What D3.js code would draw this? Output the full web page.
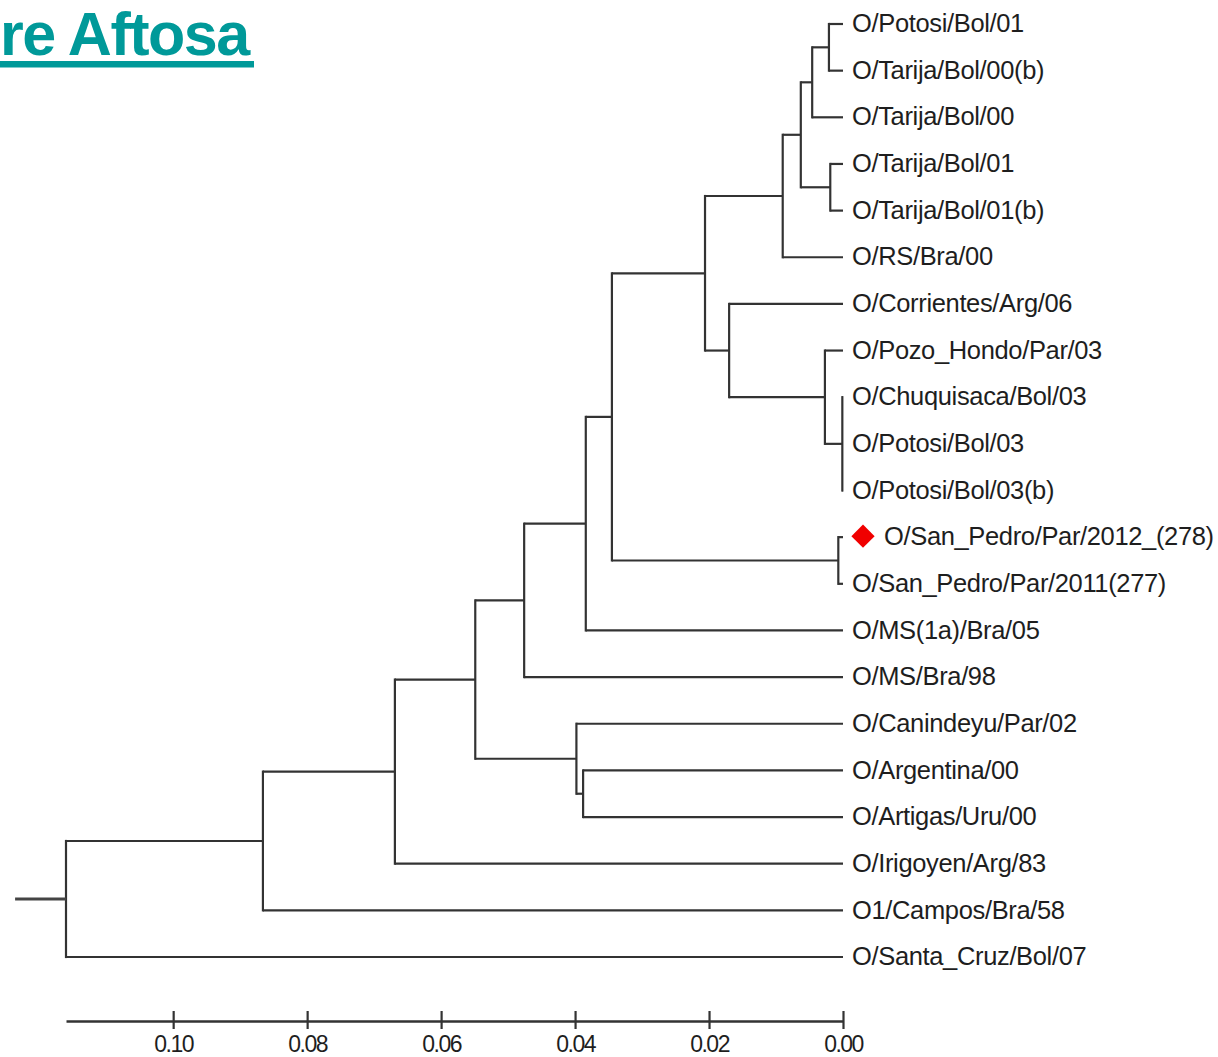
<!DOCTYPE html>
<html>
<head>
<meta charset="utf-8">
<script src="https://cdn.jsdelivr.net/npm/d3@7"></script>
<style>
  html, body { margin: 0; padding: 0; background: #fff; overflow: hidden; }
  svg { display: block; }
</style>
</head>
<body>
<svg id="chart" width="1218" height="1057"></svg>
<script>
// ---- Data ----
const titleText = "re Aftosa";

const leafNames = [
  "O/Potosi/Bol/01",
  "O/Tarija/Bol/00(b)",
  "O/Tarija/Bol/00",
  "O/Tarija/Bol/01",
  "O/Tarija/Bol/01(b)",
  "O/RS/Bra/00",
  "O/Corrientes/Arg/06",
  "O/Pozo_Hondo/Par/03",
  "O/Chuquisaca/Bol/03",
  "O/Potosi/Bol/03",
  "O/Potosi/Bol/03(b)",
  "O/San_Pedro/Par/2012_(278)",
  "O/San_Pedro/Par/2011(277)",
  "O/MS(1a)/Bra/05",
  "O/MS/Bra/98",
  "O/Canindeyu/Par/02",
  "O/Argentina/00",
  "O/Artigas/Uru/00",
  "O/Irigoyen/Arg/83",
  "O1/Campos/Bra/58",
  "O/Santa_Cruz/Bol/07"
];

// internal clusters (UPGMA), their members and node heights (distance)
const clusterIds = ["A","B","C","D","E","I","H","G","F","J","Q","M","K","P","O","L","N","R","S"];
const clusterMembers = [
  ["O/Potosi/Bol/01", "O/Tarija/Bol/00(b)"],
  ["A", "O/Tarija/Bol/00"],
  ["O/Tarija/Bol/01", "O/Tarija/Bol/01(b)"],
  ["B", "C"],
  ["D", "O/RS/Bra/00"],
  ["O/Chuquisaca/Bol/03", "O/Potosi/Bol/03", "O/Potosi/Bol/03(b)"],
  ["O/Pozo_Hondo/Par/03", "I"],
  ["O/Corrientes/Arg/06", "H"],
  ["E", "G"],
  ["O/San_Pedro/Par/2012_(278)", "O/San_Pedro/Par/2011(277)"],
  ["F", "J"],
  ["Q", "O/MS(1a)/Bra/05"],
  ["M", "O/MS/Bra/98"],
  ["O/Argentina/00", "O/Artigas/Uru/00"],
  ["O/Canindeyu/Par/02", "P"],
  ["K", "O"],
  ["L", "O/Irigoyen/Arg/83"],
  ["N", "O1/Campos/Bra/58"],
  ["R", "O/Santa_Cruz/Bol/07"]
];
const clusterHeights = [0.0021, 0.0046, 0.0019, 0.0063, 0.0090, 0.0001, 0.0027, 0.0170, 0.0206,
                        0.0007, 0.0345, 0.0384, 0.0476, 0.0388, 0.0398, 0.0549, 0.0669, 0.0866, 0.1160];
const rootStub = 0.0076;

const highlighted = ["O/San_Pedro/Par/2012_(278)"];
const axisTicks = [0.10, 0.08, 0.06, 0.04, 0.02, 0.00];

// ---- Build tree ----
const nodeMap = {};
leafNames.forEach(n => { nodeMap[n] = { name: n, height: 0, children: null }; });
clusterIds.forEach((id, i) => {
  nodeMap[id] = { name: id, height: clusterHeights[i], children: clusterMembers[i].map(m => nodeMap[m]) };
});
const root = d3.hierarchy(nodeMap["S"]);

// ---- Scales ----
const svg = d3.select("#chart");
const x = d3.scaleLinear().domain([clusterHeights[clusterHeights.length - 1], 0]).range([66, 843]);
const y = d3.scalePoint().domain(leafNames).range([24, 957]);

root.eachAfter(n => {
  if (!n.children) n.yPos = y(n.data.name);
  else {
    const ys = n.children.map(c => c.yPos);
    n.yPos = (d3.min(ys) + d3.max(ys)) / 2;
  }
  n.xPos = x(n.data.height);
});

const lineColor = "#333";
const lw = 2.2;
const g = svg.append("g");

// vertical connectors
g.selectAll("line.v")
  .data(root.descendants().filter(d => d.children))
  .join("line")
  .attr("class", "v")
  .attr("x1", d => d.xPos).attr("x2", d => d.xPos)
  .attr("y1", d => d3.min(d.children, c => c.yPos) - lw / 2)
  .attr("y2", d => d3.max(d.children, c => c.yPos) + lw / 2)
  .attr("stroke", lineColor).attr("stroke-width", lw);

// horizontal branches
g.selectAll("line.h")
  .data(root.descendants().filter(d => d.parent))
  .join("line")
  .attr("class", "h")
  .attr("x1", d => d.parent.xPos).attr("x2", d => d.xPos)
  .attr("y1", d => d.yPos).attr("y2", d => d.yPos)
  .attr("stroke", lineColor).attr("stroke-width", lw);

// root stub
g.append("line")
  .attr("x1", x(root.data.height + rootStub)).attr("x2", root.xPos)
  .attr("y1", root.yPos).attr("y2", root.yPos)
  .attr("stroke", "#444").attr("stroke-width", 2.8);

// leaf labels
const leaves = root.leaves();
g.selectAll("text.leaf")
  .data(leaves)
  .join("text")
  .attr("class", "leaf")
  .attr("x", d => d.xPos + (highlighted.includes(d.data.name) ? 41 : 9))
  .attr("y", d => d.yPos - 1)
  .attr("dy", "0.36em")
  .attr("font-family", "Liberation Sans, Arial, sans-serif")
  .attr("font-size", 25.5)
  .attr("letter-spacing", -0.35)
  .attr("fill", "#1e1e1e")
  .text(d => d.data.name);

// highlight marker
g.selectAll("path.mark")
  .data(leaves.filter(d => highlighted.includes(d.data.name)))
  .join("path")
  .attr("class", "mark")
  .attr("d", d3.symbol(d3.symbolSquare, 270)())
  .attr("transform", d => `translate(${d.xPos + 20},${d.yPos - 1}) rotate(45)`)
  .attr("fill", "#f00000");

// axis
const axisY = 1021;
const axis = d3.axisBottom(x).tickValues(axisTicks).tickFormat(d3.format(".2f")).tickSizeOuter(0);
const ag = svg.append("g").attr("transform", `translate(0,${axisY})`).call(axis);
ag.select(".domain").attr("stroke", "#333").attr("stroke-width", 2.6);
ag.selectAll(".tick line").attr("y1", -10).attr("y2", 8).attr("stroke", "#333").attr("stroke-width", 2.2);
ag.selectAll(".tick text")
  .attr("y", 31).attr("dy", 0)
  .attr("font-family", "Liberation Sans, Arial, sans-serif")
  .attr("font-size", 23)
  .attr("letter-spacing", -1.5)
  .attr("fill", "#1e1e1e");

// title
svg.append("text")
  .attr("x", 0).attr("y", 55)
  .attr("text-anchor", "start")
  .attr("font-family", "Liberation Sans, Arial, sans-serif")
  .attr("font-weight", "bold")
  .attr("font-size", 61)
  .attr("letter-spacing", -1.5)
  .attr("fill", "#009999")
  .text(titleText);
svg.append("rect")
  .attr("x", 0).attr("y", 61).attr("width", 254).attr("height", 6.5)
  .attr("fill", "#009999");
</script>
</body>
</html>
